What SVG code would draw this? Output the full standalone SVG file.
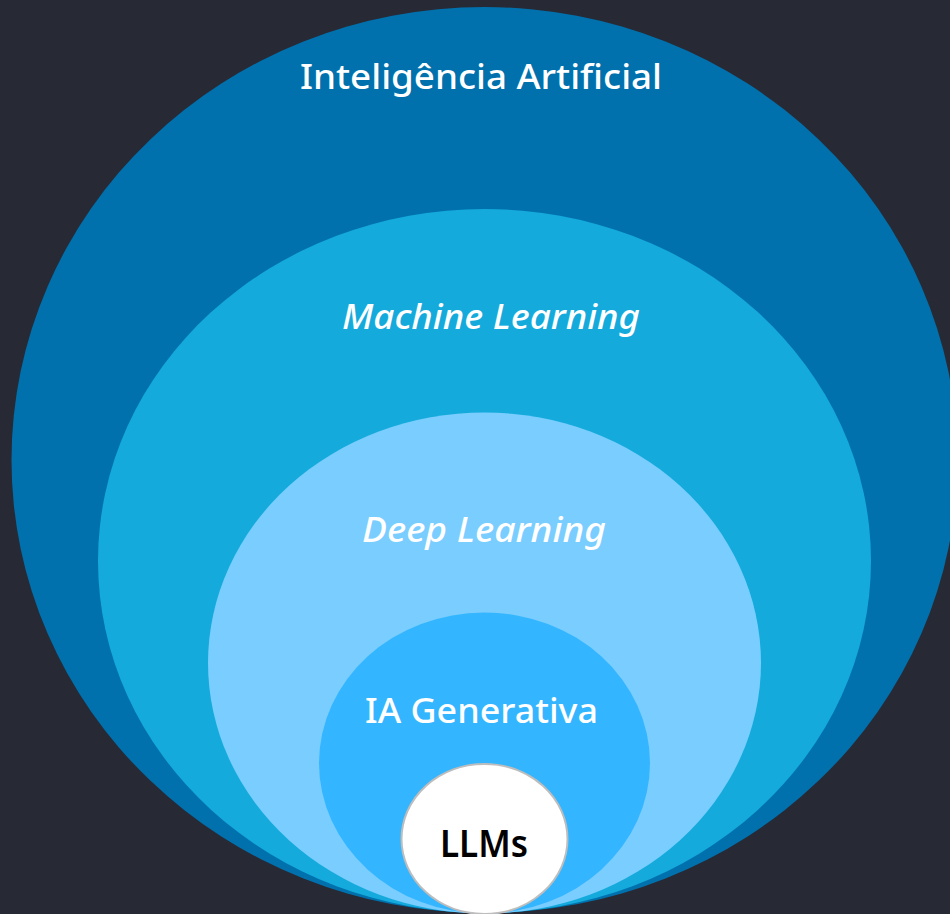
<svg xmlns="http://www.w3.org/2000/svg" width="950" height="914" viewBox="0 0 950 914">
<style>
text{font-family:"Noto Sans","Open Sans","Liberation Sans",sans-serif;font-size:35px;font-weight:500;fill:#ffffff;text-anchor:middle}
.it{font-style:italic}
.llm{fill:#000000;font-weight:600;font-size:37px}
</style>
<rect width="950" height="914" fill="#272935"/>
<g id="ia">
<ellipse cx="484.5" cy="460" rx="473" ry="453" fill="#0071AD"/>
<text x="481" y="89" textLength="362" lengthAdjust="spacingAndGlyphs">Inteligência Artificial</text>
</g>
<g id="ml">
<ellipse cx="484.5" cy="561" rx="386.5" ry="352" fill="#14AADC"/>
<text class="it" x="491" y="329" textLength="298" lengthAdjust="spacingAndGlyphs">Machine Learning</text>
</g>
<g id="dl">
<ellipse cx="484.5" cy="663" rx="276.5" ry="250.5" fill="#7ACDFF"/>
<text class="it" x="484" y="542" textLength="244" lengthAdjust="spacingAndGlyphs">Deep Learning</text>
</g>
<g id="iag">
<ellipse cx="484.5" cy="763" rx="165.5" ry="150.5" fill="#33B5FF"/>
<text x="481.5" y="723" textLength="233" lengthAdjust="spacingAndGlyphs">IA Generativa</text>
</g>
<g id="llms">
<ellipse cx="484.5" cy="839" rx="83" ry="75" fill="#ffffff" stroke="#BDBDBD" stroke-width="2"/>
<text class="llm" x="484" y="857" textLength="88" lengthAdjust="spacingAndGlyphs">LLMs</text>
</g>
<g id="connectors"/>
</svg>
